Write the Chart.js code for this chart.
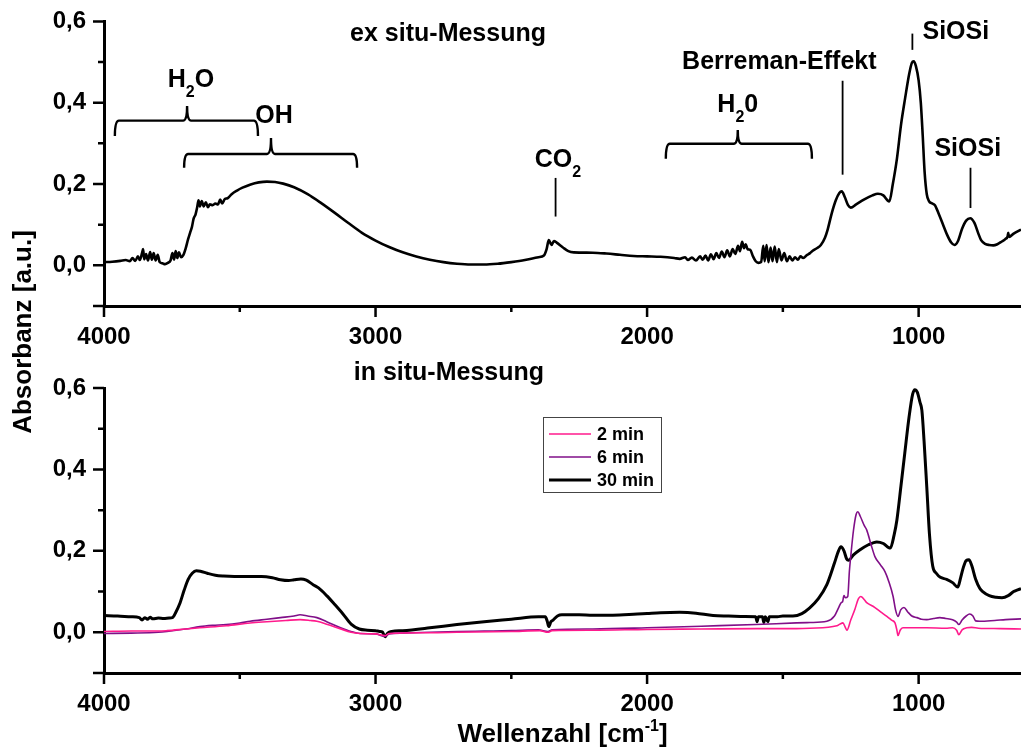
<!DOCTYPE html>
<html lang="de">
<head>
<meta charset="UTF-8">
<title>IR-Spektren ex situ / in situ</title>
<script src="https://cdn.jsdelivr.net/npm/chart.js@4"></script>
<style>
  body { margin: 0; background: #fff; }
  .wrap { position: relative; width: 1021px; height: 751px; }
  .wrap canvas { position: absolute; left: 0; top: 0; }
</style>
</head>
<body>
<div class="wrap">
  <canvas id="inSitu" width="1021" height="751"></canvas>
  <canvas id="exSitu" width="1021" height="751"></canvas>
</div>
<script>
// [Wellenzahl cm-1, Absorbanz]
const exSitu = [
  [4000,0.008],[3970,0.009],[3940,0.011],[3920,0.013],[3905,0.010],[3895,0.018],[3885,0.011],
  [3875,0.022],[3868,0.013],[3860,0.030],[3856,0.040],[3852,0.015],[3845,0.028],[3838,0.012],
  [3830,0.033],[3824,0.014],[3817,0.030],[3810,0.012],[3802,0.026],[3795,0.008],[3785,0.005],
  [3775,0.003],[3765,0.006],[3755,0.012],[3748,0.030],[3742,0.014],[3736,0.035],[3730,0.018],
  [3724,0.032],[3716,0.020],[3708,0.025],[3700,0.040],[3690,0.065],[3683,0.080],[3676,0.095],
  [3670,0.115],[3663,0.125],[3657,0.142],[3652,0.160],[3647,0.145],[3640,0.158],[3633,0.145],
  [3625,0.155],[3617,0.143],[3610,0.150],[3600,0.148],[3590,0.152],[3580,0.150],[3572,0.162],
  [3565,0.152],[3555,0.163],[3545,0.165],[3530,0.175],[3510,0.184],[3490,0.191],[3460,0.199],
  [3430,0.204],[3400,0.206],[3370,0.205],[3340,0.201],[3300,0.192],[3250,0.175],[3200,0.153],
  [3150,0.129],[3100,0.104],[3050,0.080],[3000,0.061],[2950,0.045],[2900,0.032],[2850,0.022],
  [2800,0.014],[2750,0.008],[2700,0.004],[2650,0.002],[2600,0.002],[2550,0.004],[2500,0.008],
  [2450,0.013],[2400,0.020],[2380,0.024],[2370,0.040],[2362,0.062],[2352,0.050],[2343,0.060],
  [2333,0.056],[2310,0.044],[2290,0.035],[2270,0.032],[2200,0.031],[2150,0.029],[2100,0.026],
  [2050,0.023],[2000,0.022],[1950,0.021],[1900,0.018],[1880,0.016],[1860,0.020],[1850,0.013],
  [1835,0.019],[1820,0.012],[1805,0.022],[1795,0.014],[1785,0.024],[1775,0.012],[1765,0.027],
  [1755,0.015],[1745,0.030],[1735,0.018],[1725,0.034],[1715,0.020],[1705,0.037],[1695,0.022],
  [1685,0.040],[1675,0.028],[1665,0.048],[1658,0.035],[1650,0.058],[1643,0.042],[1637,0.052],
  [1630,0.040],[1620,0.038],[1610,0.022],[1600,0.010],[1590,0.006],[1580,0.008],[1572,0.048],
  [1567,0.010],[1560,0.050],[1553,0.008],[1545,0.044],[1538,0.010],[1530,0.046],[1522,0.008],
  [1515,0.040],[1505,0.012],[1495,0.030],[1485,0.010],[1475,0.022],[1465,0.012],[1455,0.020],
  [1445,0.014],[1435,0.022],[1425,0.018],[1410,0.026],[1400,0.030],[1390,0.036],[1375,0.042],
  [1360,0.050],[1345,0.068],[1335,0.088],[1320,0.128],[1305,0.160],[1292,0.178],[1283,0.182],
  [1272,0.168],[1260,0.148],[1250,0.142],[1230,0.150],[1200,0.162],[1170,0.172],[1150,0.176],
  [1130,0.172],[1115,0.160],[1108,0.157],[1095,0.200],[1080,0.262],[1065,0.345],[1050,0.410],
  [1035,0.470],[1025,0.498],[1018,0.502],[1010,0.490],[1000,0.455],[992,0.400],[985,0.320],
  [978,0.230],[970,0.175],[962,0.158],[950,0.152],[940,0.148],[925,0.125],[910,0.100],
  [895,0.075],[880,0.056],[868,0.050],[855,0.060],[840,0.090],[825,0.110],[810,0.116],
  [795,0.105],[780,0.078],[770,0.062],[755,0.053],[740,0.050],[725,0.049],[710,0.052],
  [695,0.058],[680,0.065],[672,0.072],[670,0.080],[667,0.070],[650,0.078],[623,0.088]
];

const inSitu2 = [
  [4000,0.002],[3900,0.003],[3800,0.003],[3768,0.004],[3700,0.008],[3647,0.011],[3550,0.016],
  [3462,0.023],[3400,0.026],[3330,0.029],[3278,0.031],[3240,0.029],[3216,0.027],[3180,0.020],
  [3131,0.009],[3090,0.000],[3057,-0.003],[3000,-0.004],[2965,-0.008],[2950,-0.003],[2800,-0.001],
  [2700,0.000],[2500,0.002],[2395,0.004],[2365,0.000],[2350,0.004],[2200,0.005],[2000,0.007],
  [1800,0.008],[1600,0.009],[1450,0.009],[1400,0.010],[1301,0.016],[1290,0.020],[1279,0.023],
  [1270,0.012],[1264,0.005],[1250,0.030],[1235,0.056],[1222,0.082],[1213,0.088],[1200,0.080],
  [1190,0.072],[1168,0.064],[1140,0.050],[1117,0.039],[1100,0.030],[1087,0.023],[1080,0.005],
  [1076,-0.008],[1068,0.005],[1058,0.011],[1000,0.011],[970,0.011],[900,0.010],[875,0.011],
  [860,0.005],[852,-0.006],[840,0.006],[823,0.011],[805,0.012],[780,0.010],[700,0.009],[623,0.008]
];

const inSitu6 = [
  [4000,-0.003],[3900,-0.002],[3800,0.000],[3768,0.002],[3700,0.008],[3647,0.014],[3600,0.017],
  [3550,0.019],[3500,0.023],[3462,0.027],[3400,0.032],[3350,0.036],[3300,0.040],[3278,0.043],
  [3250,0.040],[3216,0.036],[3180,0.026],[3131,0.012],[3090,0.002],[3057,-0.003],[3000,-0.004],
  [2965,-0.010],[2950,-0.004],[2900,-0.002],[2800,0.000],[2700,0.002],[2600,0.003],[2500,0.004],
  [2400,0.006],[2365,0.002],[2350,0.006],[2200,0.008],[2000,0.011],[1800,0.015],[1600,0.019],
  [1450,0.023],[1400,0.024],[1338,0.027],[1310,0.040],[1295,0.060],[1285,0.073],[1280,0.075],
  [1275,0.090],[1270,0.085],[1261,0.088],[1255,0.150],[1250,0.186],[1240,0.250],[1230,0.290],
  [1224,0.296],[1215,0.285],[1200,0.262],[1191,0.251],[1175,0.215],[1161,0.186],[1140,0.165],
  [1124,0.149],[1110,0.125],[1094,0.088],[1085,0.055],[1076,0.039],[1066,0.055],[1054,0.061],
  [1040,0.050],[1025,0.040],[1006,0.036],[990,0.032],[970,0.031],[945,0.034],[922,0.036],
  [900,0.034],[875,0.031],[860,0.025],[852,0.019],[840,0.030],[825,0.040],[812,0.045],
  [800,0.040],[790,0.028],[775,0.027],[720,0.029],[680,0.031],[623,0.033]
];

const inSitu30 = [
  [4000,0.041],[3950,0.040],[3900,0.038],[3870,0.036],[3860,0.030],[3850,0.036],[3840,0.032],
  [3830,0.037],[3820,0.033],[3800,0.035],[3780,0.034],[3760,0.035],[3748,0.036],[3735,0.050],
  [3720,0.072],[3705,0.103],[3690,0.130],[3675,0.145],[3660,0.151],[3645,0.150],[3620,0.145],
  [3590,0.140],[3560,0.138],[3520,0.137],[3470,0.137],[3420,0.137],[3380,0.134],[3350,0.129],
  [3320,0.127],[3300,0.129],[3275,0.131],[3255,0.128],[3230,0.117],[3210,0.109],[3180,0.090],
  [3150,0.068],[3120,0.045],[3090,0.020],[3060,0.008],[3030,0.005],[3000,0.004],[2985,0.002],
  [2975,0.001],[2965,-0.011],[2955,-0.002],[2940,0.002],[2900,0.004],[2800,0.011],[2700,0.019],
  [2600,0.026],[2500,0.032],[2400,0.038],[2375,0.038],[2368,0.028],[2362,0.014],[2354,0.026],
  [2346,0.030],[2330,0.040],[2314,0.043],[2250,0.043],[2200,0.042],[2126,0.042],[2050,0.044],
  [2000,0.046],[1950,0.048],[1880,0.049],[1820,0.047],[1757,0.041],[1700,0.040],[1640,0.039],
  [1600,0.038],[1595,0.026],[1590,0.038],[1575,0.038],[1570,0.024],[1565,0.038],[1555,0.026],
  [1550,0.038],[1520,0.038],[1500,0.040],[1463,0.040],[1430,0.046],[1401,0.060],[1370,0.082],
  [1338,0.117],[1310,0.170],[1295,0.200],[1286,0.210],[1275,0.200],[1265,0.180],[1258,0.177],
  [1240,0.190],[1217,0.202],[1185,0.215],[1154,0.222],[1130,0.218],[1110,0.208],[1104,0.207],
  [1090,0.240],[1080,0.276],[1065,0.360],[1051,0.440],[1035,0.530],[1022,0.585],[1014,0.596],
  [1005,0.590],[995,0.565],[988,0.545],[980,0.470],[970,0.357],[960,0.240],[948,0.162],
  [935,0.145],[920,0.135],[897,0.130],[875,0.122],[856,0.111],[845,0.135],[835,0.160],
  [825,0.176],[815,0.178],[805,0.165],[790,0.130],[775,0.108],[764,0.100],[740,0.090],
  [715,0.086],[693,0.085],[670,0.090],[650,0.100],[640,0.103],[623,0.107]
];

const seriesLabels = ['2 min', '6 min', '30 min'];
const seriesColors = ['#ff1a8c', '#800f88', '#000000'];
const xTickValues = [4000, 3500, 3000, 2500, 2000, 1500, 1000];
const yTickValues = [-0.1, 0, 0.1, 0.2, 0.3, 0.4, 0.5, 0.6];
const X_MIN = 623, X_MAX = 4000;

const FONT = '"Liberation Sans", Arial, Helvetica, sans-serif';

// annotations of the ex situ spectrum, in data coordinates
const exSituTexts = [
  { parts: [['ex situ-Messung']], x: 2733, y: 0.553 },
  { parts: [['H'], ['2', 'sub'], ['O']], x: 3680, y: 0.438 },
  { parts: [['OH']], x: 3374, y: 0.350 },
  { parts: [['CO'], ['2', 'sub']], x: 2328, y: 0.242 },
  { parts: [['H'], ['2', 'sub'], ['0']], x: 1666, y: 0.378 },
  { parts: [['Berreman-Effekt']], x: 1513, y: 0.484 },
  { parts: [['SiOSi']], x: 863, y: 0.557 },
  { parts: [['SiOSi']], x: 819, y: 0.269 }
];
const exSituLines = [
  { x: 2337, y1: 0.215, y2: 0.120 },
  { x: 1280, y1: 0.454, y2: 0.223 },
  { x: 1023, y1: 0.570, y2: 0.530 },
  { x: 809, y1: 0.240, y2: 0.141 }
];
const exSituBraces = [
  { x1: 3960, x2: 3433, tip: 3694, line: 0.356, end: 0.318, top: 0.392 },
  { x1: 3705, x2: 3068, tip: 3385, line: 0.274, end: 0.240, top: 0.313 },
  { x1: 1931, x2: 1393, tip: 1666, line: 0.299, end: 0.262, top: 0.333 }
];

function drawRich(ctx, parts, cx, baseY, size) {
  const big = 'bold ' + size + 'px ' + FONT;
  const small = 'bold ' + Math.round(size * 0.62) + 'px ' + FONT;
  let total = 0;
  const w = parts.map(p => {
    ctx.font = p[1] ? small : big;
    const m = ctx.measureText(p[0]).width;
    total += m;
    return m;
  });
  let x = cx - total / 2;
  ctx.textAlign = 'left';
  ctx.textBaseline = 'alphabetic';
  parts.forEach((p, i) => {
    ctx.font = p[1] ? small : big;
    const dy = p[1] === 'sub' ? size * 0.4 : p[1] === 'sup' ? -size * 0.42 : 0;
    ctx.fillText(p[0], x, baseY + dy);
    x += w[i];
  });
}

const tickMarks = {
  id: 'tickMarks',
  afterDraw(chart) {
    const { ctx, scales: { x, y }, chartArea: a } = chart;
    ctx.save();
    ctx.strokeStyle = '#000';
    ctx.lineWidth = 2.5;
    ctx.beginPath();
    x.ticks.forEach(t => {
      const px = x.getPixelForValue(t.value);
      const len = t.value % 1000 === 0 ? 11 : 6;
      ctx.moveTo(px, a.bottom);
      ctx.lineTo(px, a.bottom + len);
    });
    y.ticks.forEach(t => {
      const py = y.getPixelForValue(t.value);
      const k = Math.round(t.value * 10);
      const major = k % 2 === 0 || k === -1;
      ctx.moveTo(a.left, py);
      ctx.lineTo(a.left - (major ? 11 : 6), py);
    });
    ctx.stroke();
    ctx.restore();
  }
};

const exSituNotes = {
  id: 'exSituNotes',
  afterDatasetsDraw(chart) {
    const { ctx, scales: { x, y } } = chart;
    ctx.save();
    ctx.fillStyle = '#000';
    ctx.strokeStyle = '#000';
    exSituTexts.forEach(t => drawRich(ctx, t.parts, x.getPixelForValue(t.x), y.getPixelForValue(t.y), 25));
    ctx.lineWidth = 1.8;
    exSituLines.forEach(l => {
      const px = x.getPixelForValue(l.x);
      ctx.beginPath();
      ctx.moveTo(px, y.getPixelForValue(l.y1));
      ctx.lineTo(px, y.getPixelForValue(l.y2));
      ctx.stroke();
    });
    ctx.lineWidth = 2.4;
    exSituBraces.forEach(b => {
      const x1 = x.getPixelForValue(b.x1), x2 = x.getPixelForValue(b.x2), xt = x.getPixelForValue(b.tip);
      const yl = y.getPixelForValue(b.line), ye = y.getPixelForValue(b.end), yt = y.getPixelForValue(b.top);
      const r = 4;
      ctx.beginPath();
      ctx.moveTo(x1, ye);
      ctx.quadraticCurveTo(x1, yl, x1 + r, yl);
      ctx.lineTo(xt - r, yl);
      ctx.quadraticCurveTo(xt, yl, xt, yt);
      ctx.quadraticCurveTo(xt, yl, xt + r, yl);
      ctx.lineTo(x2 - r, yl);
      ctx.quadraticCurveTo(x2, yl, x2, ye);
      ctx.stroke();
    });
    ctx.restore();
  }
};

const inSituNotes = {
  id: 'inSituNotes',
  afterDraw(chart) {
    const { ctx, scales: { x, y }, chartArea: a } = chart;
    ctx.save();
    ctx.fillStyle = '#000';
    drawRich(ctx, [['in situ-Messung']], x.getPixelForValue(2730), y.getPixelForValue(0.62), 25);

    // legend
    const box = { left: 543, top: 417, w: 118, h: 75, rows: [434, 457, 480] };
    ctx.fillStyle = '#fff';
    ctx.fillRect(box.left, box.top, box.w, box.h);
    ctx.strokeStyle = '#444';
    ctx.lineWidth = 1;
    ctx.strokeRect(box.left + 0.5, box.top + 0.5, box.w, box.h);
    chart.data.datasets.forEach((ds, i) => {
      const ry = box.rows[i];
      ctx.strokeStyle = ds.borderColor;
      ctx.lineWidth = ds.borderWidth;
      ctx.beginPath();
      ctx.moveTo(box.left + 6, ry);
      ctx.lineTo(box.left + 48, ry);
      ctx.stroke();
      ctx.fillStyle = '#000';
      ctx.font = 'bold 18px ' + FONT;
      ctx.textAlign = 'left';
      ctx.textBaseline = 'middle';
      ctx.fillText(ds.label, box.left + 54, ry + 1);
    });

    // axis titles
    ctx.fillStyle = '#000';
    drawRich(ctx, [['Wellenzahl [cm'], ['-1', 'sup'], [']']], (a.left + a.right) / 2, 742, 26);
    ctx.translate(31, 332);
    ctx.rotate(-Math.PI / 2);
    drawRich(ctx, [['Absorbanz [a.u.]']], 0, 0, 26);
    ctx.restore();
  }
};

function xAxis(height) {
  return {
    type: 'linear', reverse: true, min: X_MIN, max: X_MAX,
    afterBuildTicks: s => { s.ticks = xTickValues.map(v => ({ value: v })); },
    afterFit: s => { s.height = height; },
    ticks: {
      color: '#000', font: { family: FONT, size: 24, weight: 'bold' },
      padding: 6, maxRotation: 0, autoSkip: false,
      callback: v => (v % 1000 === 0 ? String(v) : '')
    },
    grid: { display: true, drawOnChartArea: false, drawTicks: true, tickLength: 11, tickColor: 'rgba(0,0,0,0)' },
    border: { display: true, color: '#000', width: 3 }
  };
}

function yAxis() {
  return {
    type: 'linear', min: -0.1, max: 0.6,
    afterBuildTicks: s => { s.ticks = yTickValues.map(v => ({ value: v })); },
    afterFit: s => { s.width = 104; },
    ticks: {
      color: '#000', font: { family: FONT, size: 24, weight: 'bold' },
      padding: 7, autoSkip: false,
      callback: v => {
        const k = Math.round(v * 10);
        return k >= 0 && k % 2 === 0 ? (k / 10).toFixed(1).replace('.', ',') : '';
      }
    },
    grid: { display: true, drawOnChartArea: false, drawTicks: true, tickLength: 11, tickColor: 'rgba(0,0,0,0)' },
    border: { display: true, color: '#000', width: 3 }
  };
}

const toPoints = arr => arr.map(p => ({ x: p[0], y: p[1] }));

const baseOptions = (padTop, padBottom, xHeight) => ({
  responsive: false,
  animation: false,
  events: [],
  layout: { padding: { top: padTop, bottom: padBottom, left: 0, right: 0 } },
  elements: { point: { radius: 0 }, line: { cubicInterpolationMode: 'monotone' } },
  plugins: { legend: { display: false }, tooltip: { enabled: false } },
  scales: { x: xAxis(xHeight), y: yAxis() }
});

new Chart(document.getElementById('inSitu'), {
  type: 'line',
  data: {
    datasets: [inSitu2, inSitu6, inSitu30].map((s, i) => ({
      label: seriesLabels[i],
      data: toPoints(s),
      borderColor: seriesColors[i],
      borderWidth: i === 2 ? 3 : 1.6,
      fill: false
    }))
  },
  options: baseOptions(388, 0, 78),
  plugins: [tickMarks, inSituNotes]
});

new Chart(document.getElementById('exSitu'), {
  type: 'line',
  data: {
    datasets: [{
      label: 'ex situ',
      data: toPoints(exSitu),
      borderColor: '#000',
      borderWidth: 2.6,
      fill: false
    }]
  },
  options: baseOptions(21, 396, 49),
  plugins: [tickMarks, exSituNotes]
});
</script>
</body>
</html>
